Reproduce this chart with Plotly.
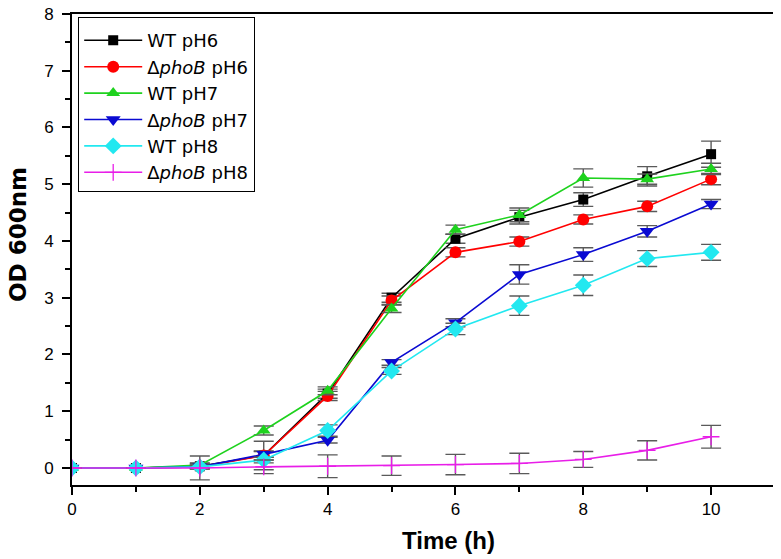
import plotly.graph_objects as go

time_h = [0, 1, 2, 3, 4, 5, 6, 7, 8, 9, 10]

series_names = ["WT pH6", "Δ<i>phoB</i> pH6", "WT pH7", "Δ<i>phoB</i> pH7", "WT pH8", "Δ<i>phoB</i> pH8"]

wt_ph6 = [0, 0, 0.03, 0.22, 1.31, 3.00, 4.04, 4.42, 4.73, 5.14, 5.53]
wt_ph6_err = [0, 0, 0.05, 0.25, 0.08, 0.08, 0.08, 0.12, 0.12, 0.17, 0.23]

phob_ph6 = [0, 0, 0.02, 0.22, 1.27, 2.95, 3.80, 3.99, 4.38, 4.61, 5.09]
phob_ph6_err = [0, 0, 0.03, 0.08, 0.08, 0.08, 0.08, 0.08, 0.08, 0.09, 0.10]

wt_ph7 = [0, 0, 0.05, 0.66, 1.36, 2.81, 4.20, 4.46, 5.11, 5.09, 5.27]
wt_ph7_err = [0, 0, 0.04, 0.08, 0.07, 0.07, 0.08, 0.12, 0.16, 0.09, 0.10]

phob_ph7 = [0, 0, 0.02, 0.24, 0.49, 1.86, 2.56, 3.41, 3.76, 4.17, 4.65]
phob_ph7_err = [0, 0, 0.03, 0.05, 0.05, 0.05, 0.07, 0.17, 0.12, 0.10, 0.08]

wt_ph8 = [0, 0, 0.02, 0.14, 0.66, 1.71, 2.45, 2.86, 3.22, 3.69, 3.80]
wt_ph8_err = [0, 0, 0.03, 0.05, 0.10, 0.06, 0.10, 0.17, 0.18, 0.14, 0.14]

phob_ph8 = [0, 0, 0.0, 0.02, 0.03, 0.04, 0.06, 0.08, 0.15, 0.31, 0.55]
phob_ph8_err = [0, 0, 0.21, 0.12, 0.20, 0.17, 0.18, 0.18, 0.14, 0.17, 0.20]

colors = ["#000000", "#ff0000", "#1ed21e", "#0a0ad2", "#22e8f0", "#e81ee8"]
symbols = ["square", "circle", "triangle-up", "triangle-down", "diamond", "cross-thin"]
sizes = [10, 12, 12, 13, 13, 12]

values = [wt_ph6, phob_ph6, wt_ph7, phob_ph7, wt_ph8, phob_ph8]
errors = [wt_ph6_err, phob_ph6_err, wt_ph7_err, phob_ph7_err, wt_ph8_err, phob_ph8_err]

fig = go.Figure()
for name, y, e, c, s, sz in zip(series_names, values, errors, colors, symbols, sizes):
    marker = dict(symbol=s, size=sz, color=c)
    if s == "cross-thin":
        marker["line"] = dict(color=c, width=1.3)
    else:
        marker["line"] = dict(width=0)
    fig.add_trace(go.Scatter(
        x=time_h, y=y, name=name, mode="lines+markers",
        line=dict(color=c, width=1.6),
        marker=marker,
        error_y=dict(type="data", array=e, visible=True, color="#5a5a5a", thickness=1.4, width=10),
    ))

font_family = "Liberation Sans, Arial, sans-serif"

# the page body adds an 8 px offset; margins compensate so the plot area
# spans x 72..775 and y 14..485 in the window
fig.update_layout(
    width=781, height=559,
    margin=dict(l=64, r=14, t=6, b=82, autoexpand=False),
    paper_bgcolor="white", plot_bgcolor="white",
    font=dict(family=font_family, size=17, color="black"),
    showlegend=True,
    legend=dict(
        x=6 / 703, y=1 - 3 / 471, xanchor="left", yanchor="top",
        bgcolor="white", bordercolor="black", borderwidth=1.2,
        font=dict(size=18, family="DejaVu Sans, sans-serif", color="black"),
        title=dict(text=" ", font=dict(size=3)),
        itemwidth=58, tracegroupgap=0,
    ),
    xaxis=dict(
        range=[0, 11], tickmode="linear", tick0=0, dtick=2, automargin=False,
        showgrid=False, zeroline=False,
        showline=True, linecolor="black", linewidth=2, mirror=True,
        ticks="outside", ticklen=8, tickwidth=2, tickcolor="black",
        minor=dict(ticks="outside", ticklen=5, tickwidth=2, tickcolor="black", dtick=1, tick0=0, showgrid=False),
        tickfont=dict(size=17), ticklabeloverflow="allow",
    ),
    yaxis=dict(
        range=[-0.3, 8], tickmode="linear", tick0=0, dtick=1, automargin=False,
        showgrid=False, zeroline=False,
        showline=True, linecolor="black", linewidth=2, mirror=True,
        ticks="outside", ticklen=8, tickwidth=2, tickcolor="black",
        ticklabelstandoff=5, ticklabeloverflow="allow",
        minor=dict(ticks="outside", ticklen=5, tickwidth=2, tickcolor="black", dtick=0.5, tick0=0, showgrid=False),
        tickfont=dict(size=17),
    ),
    annotations=[
        dict(text="<b>Time (h)</b>", xref="paper", yref="paper",
             x=(449 - 72) / 703, y=-(540 - 485) / 471, xanchor="center", yanchor="middle",
             showarrow=False, font=dict(size=24, family=font_family, color="black")),
        dict(text="<b>OD 600nm</b>", xref="paper", yref="paper",
             x=-(72 - 18) / 703, y=(485 - 235) / 471, xanchor="center", yanchor="middle",
             textangle=-90, showarrow=False, font=dict(size=23, family="DejaVu Sans, sans-serif", color="black")),
    ],
)

fig.write_html("out.html")
